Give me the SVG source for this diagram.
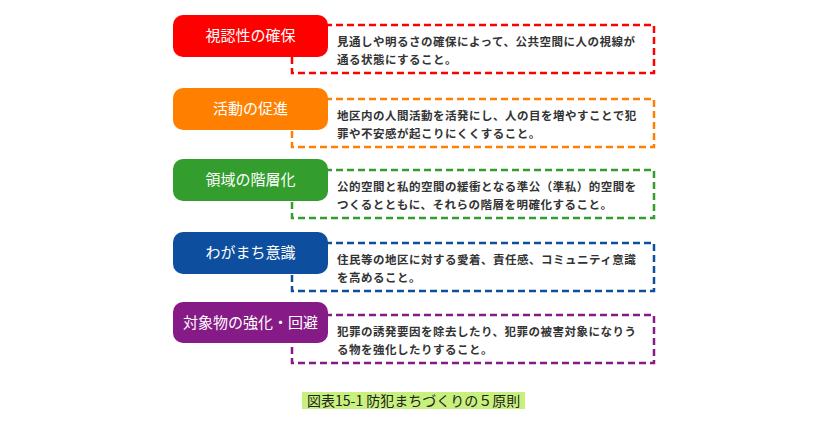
<svg xmlns="http://www.w3.org/2000/svg" width="840" height="435" viewBox="0 0 840 435">
<style>
.dash{fill:none;stroke-width:2.5;stroke-dasharray:7 4}
.head{fill:#fff;font-family:"Noto Sans CJK JP","Noto Sans",sans-serif;font-size:15px;text-anchor:middle}
.body{fill:#333;font-family:"Noto Sans CJK JP","Noto Sans",sans-serif;font-size:11.5px;font-weight:bold;letter-spacing:0.5px}
.cap{fill:#222;font-family:"Noto Sans CJK JP","Noto Sans",sans-serif;font-size:14px}
</style>
<rect width="840" height="435" fill="#fff"/>
<g id="connectors"></g>
<g id="n1">
<rect class="dash" x="292" y="25" width="362" height="48" stroke="#FF0000"/>
<rect x="173" y="15" width="155" height="42" rx="10" fill="#FF0000"/>
<text class="head" x="250.5" y="41">視認性の確保</text>
<text class="body" x="337" y="46">見通しや明るさの確保によって、公共空間に人の視線が</text>
<text class="body" x="337" y="64">通る状態にすること。</text>
</g>
<g id="n2">
<rect class="dash" x="292" y="99" width="362" height="48" stroke="#FF8000"/>
<rect x="173" y="88" width="155" height="42" rx="10" fill="#FF8000"/>
<text class="head" x="250.5" y="114">活動の促進</text>
<text class="body" x="337" y="120">地区内の人間活動を活発にし、人の目を増やすことで犯</text>
<text class="body" x="337" y="138">罪や不安感が起こりにくくすること。</text>
</g>
<g id="n3">
<rect class="dash" x="292" y="170" width="362" height="48" stroke="#339E2D"/>
<rect x="173" y="159" width="155" height="42" rx="10" fill="#339E2D"/>
<text class="head" x="250.5" y="185">領域の階層化</text>
<text class="body" x="337" y="191">公的空間と私的空間の緩衝となる準公（準私）的空間を</text>
<text class="body" x="337" y="209">つくるとともに、それらの階層を明確化すること。</text>
</g>
<g id="n4">
<rect class="dash" x="292" y="243" width="362" height="48" stroke="#0D4F9E"/>
<rect x="173" y="232" width="155" height="42" rx="10" fill="#0D4F9E"/>
<text class="head" x="250.5" y="258">わがまち意識</text>
<text class="body" x="337" y="264">住民等の地区に対する愛着、責任感、コミュニティ意識</text>
<text class="body" x="337" y="282">を高めること。</text>
</g>
<g id="n5">
<rect class="dash" x="292" y="315" width="362" height="48" stroke="#861A86"/>
<rect x="173" y="302" width="155" height="41" rx="10" fill="#861A86"/>
<text class="head" x="250.5" y="328">対象物の強化・回避</text>
<text class="body" x="337" y="336">犯罪の誘発要因を除去したり、犯罪の被害対象になりう</text>
<text class="body" x="337" y="354">る物を強化したりすること。</text>
</g>
<g id="caption">
<rect x="302" y="392" width="223" height="17" fill="#C8F07C"/>
<text class="cap" x="307" y="405.5">図表15-1 防犯まちづくりの５原則</text>
</g>
</svg>
